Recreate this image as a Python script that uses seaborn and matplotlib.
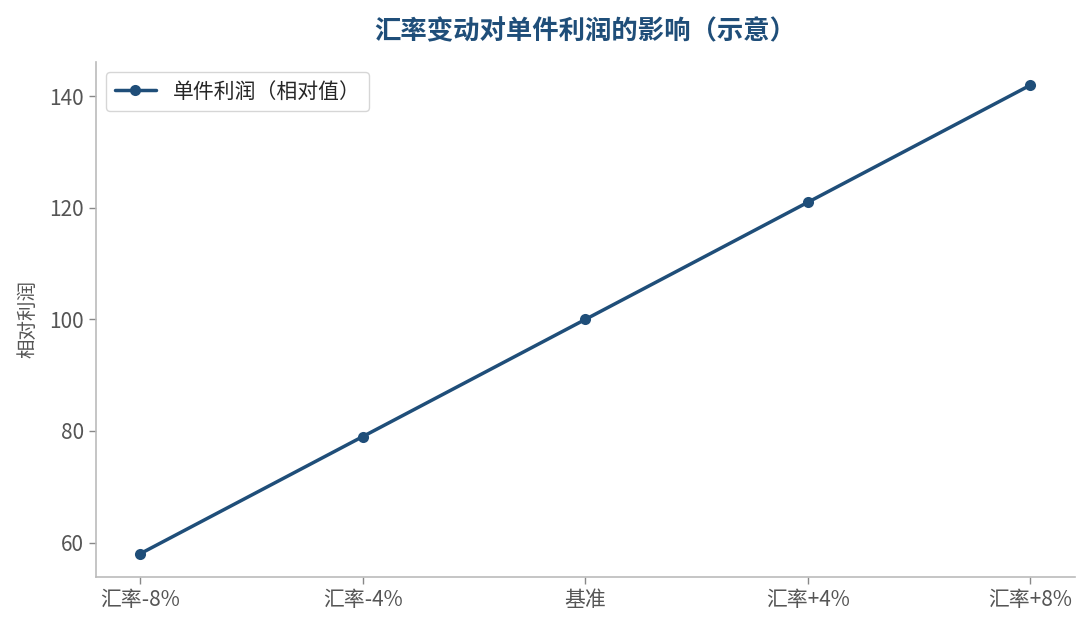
import matplotlib
matplotlib.use("Agg")
import matplotlib.pyplot as plt
import seaborn as sns
import pandas as pd

categories = ["汇率-8%", "汇率-4%", "基准", "汇率+4%", "汇率+8%"]
profit = [58, 79, 100, 121, 142]
series_name = "单件利润（相对值）"

sns.set_theme(style="white")
plt.rcParams['font.family'] = ['Noto Sans CJK SC', 'DejaVu Sans']

df = pd.DataFrame({"cat": categories, "val": profit})

fig, ax = plt.subplots(figsize=(10.89, 6.3), dpi=100)
sns.lineplot(data=df, x="cat", y="val", ax=ax, color="#1f4e79", linewidth=2.5,
             marker="o", markersize=8, markeredgewidth=0, label=series_name, sort=False)

ax.set_title("汇率变动对单件利润的影响（示意）", fontsize=19, fontweight="bold",
             color="#1f4e79", pad=16)
ax.set_xlabel("")
ax.set_ylabel("相对利润", fontsize=14, color="#555555", labelpad=8)
ax.set_yticks([60, 80, 100, 120, 140])
ax.tick_params(axis="both", labelsize=15, labelcolor="#555555", color="#888888",
               length=5, width=1, left=True, bottom=True)
for s in ["top", "right"]:
    ax.spines[s].set_visible(False)
for s in ["left", "bottom"]:
    ax.spines[s].set_color("#bbbbbb")
    ax.spines[s].set_linewidth(1.2)

leg = ax.legend(loc="upper left", fontsize=15, frameon=True)
leg.get_frame().set_edgecolor("#cccccc")

fig.subplots_adjust(left=0.088, right=0.987, top=0.902, bottom=0.084)
fig.savefig("out.png", dpi=100)
